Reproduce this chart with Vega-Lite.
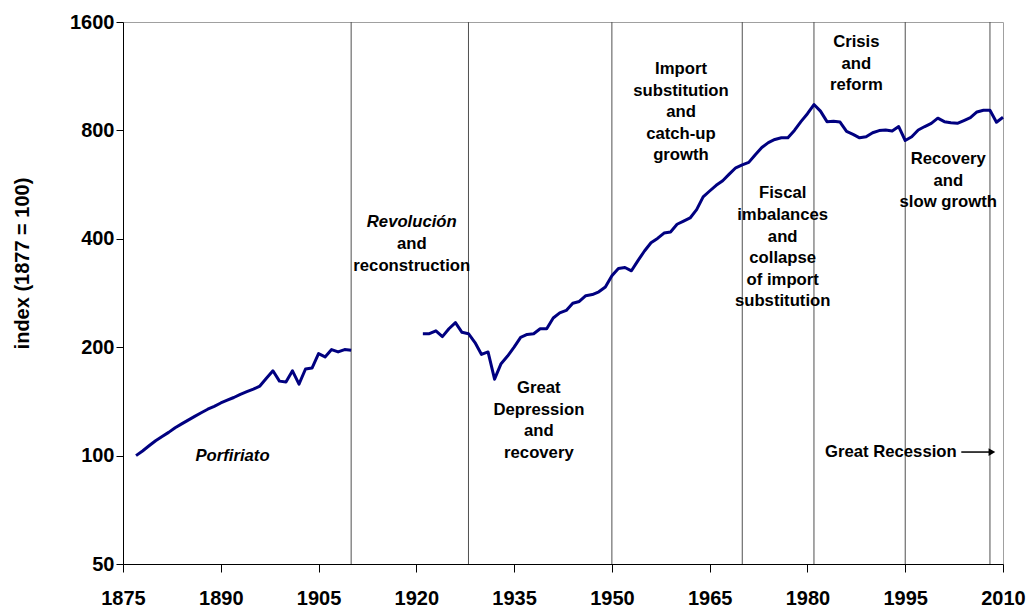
{
  "$schema": "https://vega.github.io/schema/vega-lite/v6.json",
  "width": 880,
  "height": 542,
  "autosize": "none",
  "padding": {"left": 123, "top": 22, "right": 26, "bottom": 43},
  "background": "white",
  "config": {
    "font": "Liberation Sans",
    "view": {"stroke": "#a0a0a0", "strokeWidth": 1}
  },
  "datasets": {
    "series": [
      {"year": 1877, "index": 100, "period": "a"},
      {"year": 1878, "index": 103, "period": "a"},
      {"year": 1879, "index": 106.5, "period": "a"},
      {"year": 1880, "index": 110, "period": "a"},
      {"year": 1881, "index": 113, "period": "a"},
      {"year": 1882, "index": 116, "period": "a"},
      {"year": 1883, "index": 119.5, "period": "a"},
      {"year": 1884, "index": 122.5, "period": "a"},
      {"year": 1885, "index": 125.5, "period": "a"},
      {"year": 1886, "index": 128.5, "period": "a"},
      {"year": 1887, "index": 131.5, "period": "a"},
      {"year": 1888, "index": 134.5, "period": "a"},
      {"year": 1889, "index": 137, "period": "a"},
      {"year": 1890, "index": 140, "period": "a"},
      {"year": 1891, "index": 142.5, "period": "a"},
      {"year": 1892, "index": 145, "period": "a"},
      {"year": 1893, "index": 148, "period": "a"},
      {"year": 1894, "index": 150.5, "period": "a"},
      {"year": 1895, "index": 153, "period": "a"},
      {"year": 1896, "index": 156, "period": "a"},
      {"year": 1897, "index": 164, "period": "a"},
      {"year": 1898, "index": 172, "period": "a"},
      {"year": 1899, "index": 161, "period": "a"},
      {"year": 1900, "index": 160, "period": "a"},
      {"year": 1901, "index": 172, "period": "a"},
      {"year": 1902, "index": 158, "period": "a"},
      {"year": 1903, "index": 174, "period": "a"},
      {"year": 1904, "index": 175, "period": "a"},
      {"year": 1905, "index": 192, "period": "a"},
      {"year": 1906, "index": 188, "period": "a"},
      {"year": 1907, "index": 197, "period": "a"},
      {"year": 1908, "index": 194, "period": "a"},
      {"year": 1909, "index": 197, "period": "a"},
      {"year": 1910, "index": 196, "period": "a"},
      {"year": 1921, "index": 218, "period": "b"},
      {"year": 1922, "index": 218, "period": "b"},
      {"year": 1923, "index": 222, "period": "b"},
      {"year": 1924, "index": 214, "period": "b"},
      {"year": 1925, "index": 225, "period": "b"},
      {"year": 1926, "index": 234, "period": "b"},
      {"year": 1927, "index": 220, "period": "b"},
      {"year": 1928, "index": 218, "period": "b"},
      {"year": 1929, "index": 206, "period": "b"},
      {"year": 1930, "index": 191, "period": "b"},
      {"year": 1931, "index": 194, "period": "b"},
      {"year": 1932, "index": 163, "period": "b"},
      {"year": 1933, "index": 180, "period": "b"},
      {"year": 1934, "index": 189, "period": "b"},
      {"year": 1935, "index": 200, "period": "b"},
      {"year": 1936, "index": 213, "period": "b"},
      {"year": 1937, "index": 217, "period": "b"},
      {"year": 1938, "index": 218, "period": "b"},
      {"year": 1939, "index": 225, "period": "b"},
      {"year": 1940, "index": 225, "period": "b"},
      {"year": 1941, "index": 241, "period": "b"},
      {"year": 1942, "index": 249, "period": "b"},
      {"year": 1943, "index": 253, "period": "b"},
      {"year": 1944, "index": 265, "period": "b"},
      {"year": 1945, "index": 268, "period": "b"},
      {"year": 1946, "index": 278, "period": "b"},
      {"year": 1947, "index": 280, "period": "b"},
      {"year": 1948, "index": 285, "period": "b"},
      {"year": 1949, "index": 294, "period": "b"},
      {"year": 1950, "index": 316, "period": "b"},
      {"year": 1951, "index": 331, "period": "b"},
      {"year": 1952, "index": 333, "period": "b"},
      {"year": 1953, "index": 326, "period": "b"},
      {"year": 1954, "index": 348, "period": "b"},
      {"year": 1955, "index": 370, "period": "b"},
      {"year": 1956, "index": 390, "period": "b"},
      {"year": 1957, "index": 401, "period": "b"},
      {"year": 1958, "index": 415, "period": "b"},
      {"year": 1959, "index": 418, "period": "b"},
      {"year": 1960, "index": 439, "period": "b"},
      {"year": 1961, "index": 448, "period": "b"},
      {"year": 1962, "index": 457, "period": "b"},
      {"year": 1963, "index": 482, "period": "b"},
      {"year": 1964, "index": 523, "period": "b"},
      {"year": 1965, "index": 543, "period": "b"},
      {"year": 1966, "index": 563, "period": "b"},
      {"year": 1967, "index": 580, "period": "b"},
      {"year": 1968, "index": 605, "period": "b"},
      {"year": 1969, "index": 630, "period": "b"},
      {"year": 1970, "index": 642, "period": "b"},
      {"year": 1971, "index": 652, "period": "b"},
      {"year": 1972, "index": 685, "period": "b"},
      {"year": 1973, "index": 717, "period": "b"},
      {"year": 1974, "index": 740, "period": "b"},
      {"year": 1975, "index": 755, "period": "b"},
      {"year": 1976, "index": 763, "period": "b"},
      {"year": 1977, "index": 763, "period": "b"},
      {"year": 1978, "index": 800, "period": "b"},
      {"year": 1979, "index": 846, "period": "b"},
      {"year": 1980, "index": 890, "period": "b"},
      {"year": 1981, "index": 944, "period": "b"},
      {"year": 1982, "index": 905, "period": "b"},
      {"year": 1983, "index": 846, "period": "b"},
      {"year": 1984, "index": 848, "period": "b"},
      {"year": 1985, "index": 844, "period": "b"},
      {"year": 1986, "index": 795, "period": "b"},
      {"year": 1987, "index": 780, "period": "b"},
      {"year": 1988, "index": 763, "period": "b"},
      {"year": 1989, "index": 768, "period": "b"},
      {"year": 1990, "index": 788, "period": "b"},
      {"year": 1991, "index": 799, "period": "b"},
      {"year": 1992, "index": 802, "period": "b"},
      {"year": 1993, "index": 797, "period": "b"},
      {"year": 1994, "index": 820, "period": "b"},
      {"year": 1995, "index": 750, "period": "b"},
      {"year": 1996, "index": 768, "period": "b"},
      {"year": 1997, "index": 802, "period": "b"},
      {"year": 1998, "index": 820, "period": "b"},
      {"year": 1999, "index": 837, "period": "b"},
      {"year": 2000, "index": 865, "period": "b"},
      {"year": 2001, "index": 846, "period": "b"},
      {"year": 2002, "index": 840, "period": "b"},
      {"year": 2003, "index": 837, "period": "b"},
      {"year": 2004, "index": 852, "period": "b"},
      {"year": 2005, "index": 868, "period": "b"},
      {"year": 2006, "index": 900, "period": "b"},
      {"year": 2007, "index": 910, "period": "b"},
      {"year": 2008, "index": 910, "period": "b"},
      {"year": 2009, "index": 843, "period": "b"},
      {"year": 2010, "index": 870, "period": "b"}
    ],
    "breaks": [
      {"year": 1910}, {"year": 1928}, {"year": 1950}, {"year": 1970},
      {"year": 1981}, {"year": 1995}, {"year": 2008}
    ],
    "italicNotes": [
      {"year": 1891.8, "value": 100, "label": "Porfiriato"},
      {"year": 1919.3, "value": 445, "label": "Revolución"}
    ],
    "notes": [
      {"year": 1919.3, "value": 387, "label": "and\nreconstruction"},
      {"year": 1938.8, "value": 154, "label": "Great\nDepression\nand\nrecovery"},
      {"year": 1960.6, "value": 1185, "label": "Import\nsubstitution\nand\ncatch-up\ngrowth"},
      {"year": 1976.2, "value": 535, "label": "Fiscal\nimbalances\nand\ncollapse\nof import\nsubstitution"},
      {"year": 1987.5, "value": 1408, "label": "Crisis\nand\nreform"},
      {"year": 2001.6, "value": 666, "label": "Recovery\nand\nslow growth"}
    ],
    "recession": [
      {"year": 2002.9, "value": 102.3, "label": "Great Recession", "start": 2003.6, "end": 2008.0, "tip": 2008.3}
    ]
  },
  "layer": [
    {
      "data": {"name": "breaks"},
      "mark": {"type": "rule", "color": "#505050", "strokeWidth": 1},
      "encoding": {
        "x": {"field": "year", "type": "quantitative", "scale": {"domain": [1875, 2010], "nice": false, "zero": false}}
      }
    },
    {
      "data": {"name": "series"},
      "mark": {"type": "line", "color": "#000080", "strokeWidth": 3, "strokeJoin": "round"},
      "encoding": {
        "x": {
          "field": "year", "type": "quantitative",
          "scale": {"domain": [1875, 2010], "nice": false, "zero": false},
          "axis": {
            "title": null,
            "values": [1875, 1890, 1905, 1920, 1935, 1950, 1965, 1980, 1995, 2010],
            "format": "d",
            "grid": false,
            "domainColor": "black",
            "tickColor": "black",
            "tickSize": 8,
            "labelFontSize": 20,
            "labelFontWeight": "bold",
            "labelColor": "black",
            "labelPadding": 16,
            "labelFlush": false,
            "labelOverlap": false
          }
        },
        "y": {
          "field": "index", "type": "quantitative",
          "scale": {"type": "log", "domain": [50, 1600], "nice": false},
          "axis": {
            "title": "index (1877 = 100)",
            "values": [50, 100, 200, 400, 800, 1600],
            "format": "d",
            "grid": false,
            "domainColor": "black",
            "tickColor": "black",
            "tickSize": 7,
            "labelFontSize": 20,
            "labelFontWeight": "bold",
            "labelColor": "black",
            "labelPadding": 2,
            "labelFlush": false,
            "labelOverlap": false,
            "titleFontSize": 20,
            "titleFontWeight": "bold",
            "titleColor": "black",
            "titleAngle": 270,
            "titleAlign": "center",
            "titleBaseline": "middle",
            "titleX": -101,
            "titleY": 241
          }
        },
        "detail": {"field": "period", "type": "nominal"}
      }
    },
    {
      "data": {"name": "italicNotes"},
      "mark": {"type": "text", "fontSize": 16.7, "fontWeight": "bold", "fontStyle": "italic", "align": "center", "baseline": "middle", "color": "black"},
      "encoding": {
        "x": {"field": "year", "type": "quantitative"},
        "y": {"field": "value", "type": "quantitative"},
        "text": {"field": "label"}
      }
    },
    {
      "data": {"name": "notes"},
      "mark": {"type": "text", "fontSize": 16.7, "fontWeight": "bold", "align": "center", "baseline": "middle", "color": "black", "lineBreak": "\n", "lineHeight": 21.6},
      "encoding": {
        "x": {"field": "year", "type": "quantitative"},
        "y": {"field": "value", "type": "quantitative"},
        "text": {"field": "label"}
      }
    },
    {
      "data": {"name": "recession"},
      "mark": {"type": "text", "fontSize": 16.7, "fontWeight": "bold", "align": "right", "baseline": "middle", "color": "black"},
      "encoding": {
        "x": {"field": "year", "type": "quantitative"},
        "y": {"field": "value", "type": "quantitative"},
        "text": {"field": "label"}
      }
    },
    {
      "data": {"name": "recession"},
      "mark": {"type": "rule", "color": "black", "strokeWidth": 1.5},
      "encoding": {
        "x": {"field": "start", "type": "quantitative"},
        "x2": {"field": "end"},
        "y": {"field": "value", "type": "quantitative"}
      }
    },
    {
      "data": {"name": "recession"},
      "mark": {"type": "point", "shape": "triangle-right", "filled": true, "color": "black", "size": 60, "opacity": 1},
      "encoding": {
        "x": {"field": "tip", "type": "quantitative"},
        "y": {"field": "value", "type": "quantitative"}
      }
    }
  ]
}
